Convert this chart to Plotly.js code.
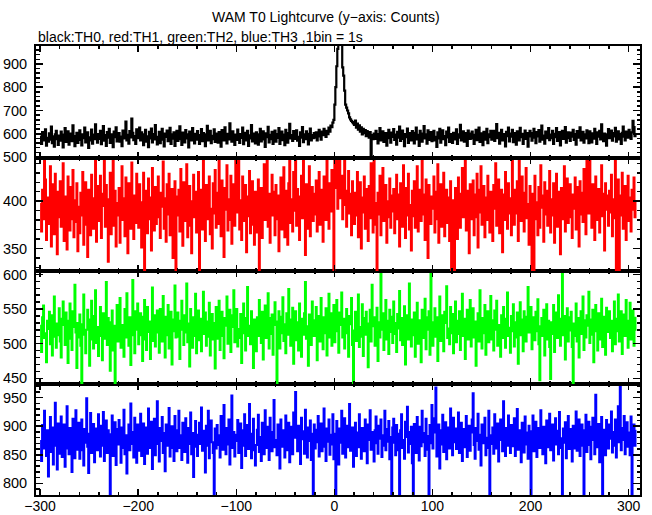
<!DOCTYPE html>
<html>
<head>
<meta charset="utf-8">
<script src="https://cdn.plot.ly/plotly-3.0.1.min.js"></script>
<style>html,body{margin:0;padding:0;background:#fff;}#chart{width:652px;height:515px;}</style>
</head>
<body>
<div id="chart"></div>
<script>
// Time bins: first bin at t = -300 s, bin width 1 s ("1bin = 1s")
const tStart = -300;
const binWidth = 1;

// TH0 (black) counts per 1 s bin, t = -300 ... 307
const th0 = [
588,556,607,571,594,619,549,583,566,602,575,631,560,589,545,598,613,577,552,592,
570,609,583,541,596,624,565,587,610,553,579,601,568,636,590,547,582,604,561,593,
615,574,550,597,581,627,563,592,606,539,585,571,618,558,596,577,640,584,562,599,
578,612,555,589,633,570,594,548,607,583,621,561,597,575,543,609,586,628,567,591,
603,566,588,547,614,580,599,652,572,595,558,611,584,665,604,573,590,556,619,581,
595,627,571,606,584,551,597,617,566,589,542,608,580,622,563,599,576,637,587,554,
582,608,560,593,621,575,546,601,587,614,568,590,625,556,597,579,606,548,588,612,
569,597,632,577,552,605,589,563,616,580,598,541,609,586,571,624,592,559,600,575,
611,583,556,594,620,568,603,579,547,598,634,572,588,613,560,591,577,619,565,601,
584,562,607,589,545,616,593,571,628,585,559,600,576,645,598,566,610,583,552,596,
574,618,590,561,599,582,626,555,604,588,571,612,548,593,580,637,567,601,585,559,
606,579,553,597,621,567,591,610,576,544,602,585,630,563,595,577,608,556,590,614,
566,599,582,624,557,588,609,573,596,551,617,585,562,603,643,580,594,569,611,578,
592,615,570,587,548,606,583,629,564,597,577,610,589,554,600,622,571,594,581,603,
583,606,571,598,617,589,575,609,594,621,601,587,612,598,626,609,635,628,648,660,
725,800,890,965,1045,1110,1080,1000,885,850,785,725,712,700,688,670,662,655,650,645,
638,657,626,644,618,636,609,628,597,621,603,616,590,611,598,583,607,505,594,577,
601,578,613,586,559,599,624,571,592,610,565,588,603,549,596,617,581,562,605,587,
620,574,596,553,608,583,631,569,592,614,578,547,599,586,622,561,603,590,571,611,
585,559,604,627,576,595,548,612,589,566,601,633,580,597,558,615,574,592,607,568,
598,612,571,587,544,606,580,621,562,594,615,577,590,551,609,584,626,565,599,579,
561,604,590,576,619,557,598,583,638,572,595,610,566,587,603,548,614,592,578,601,
609,580,556,595,617,573,590,626,565,602,584,551,608,593,575,621,560,597,586,613,
575,596,612,569,587,642,581,604,558,594,617,572,599,583,546,608,590,627,567,601,
588,617,564,603,579,553,610,592,571,625,586,600,557,596,614,578,603,545,589,612,
603,570,594,621,583,560,607,589,616,566,598,635,575,592,558,609,581,600,624,573,
596,581,613,557,600,586,624,569,591,607,550,595,612,578,603,629,562,589,606,581,
569,605,588,617,574,599,553,611,583,596,628,571,590,608,562,597,580,615,587,560,
610,585,563,602,579,621,594,557,606,588,612,576,640,593,568,601,584,549,598,620,
581,596,614,570,603,589,625,566,592,610,576,599,557,604,631,588,572,609,594,583,
617,595,578,606,655,629,590,603
];

// TH1 (red)
const th1 = [
397,368,412,381,452,423,359,404,376,391,437,352,418,386,365,429,399,344,410,383,
421,373,396,440,358,405,387,349,426,392,369,415,381,433,362,401,378,419,347,394,
366,409,385,431,354,398,420,375,341,412,389,364,428,403,371,393,446,357,384,416,
379,427,361,395,408,450,373,417,388,336,402,430,365,391,451,374,411,352,398,385,
414,356,392,437,380,403,363,425,398,345,419,384,371,441,393,360,406,377,429,389,
372,418,399,351,387,430,320,395,411,366,424,381,404,348,435,390,369,415,376,400,
426,383,361,409,394,442,371,403,357,418,386,429,364,397,413,340,388,421,322,405,
385,412,368,434,396,353,420,379,407,439,362,391,416,374,345,400,428,383,410,367,
398,431,324,389,412,370,445,393,358,417,381,404,426,365,392,350,419,387,433,372,
409,376,449,397,363,422,386,341,414,391,438,369,402,380,427,355,396,418,374,443,
388,412,453,370,401,359,426,393,379,417,346,405,384,432,366,398,421,375,354,410,
395,367,423,319,387,414,361,402,439,380,396,450,373,408,356,391,428,385,410,364,
417,381,406,347,393,425,370,399,436,362,411,388,354,419,455,377,402,368,431,390,
449,374,413,388,359,405,427,382,452,396,343,418,371,400,437,363,392,415,379,408,
386,422,368,401,431,375,412,393,357,426,398,380,444,407,371,419,389,433,402,321,
450,414,454,392,436,452,403,427,381,418,449,396,373,411,432,387,408,364,421,394,
376,409,385,431,362,397,420,350,404,388,426,371,413,393,358,416,382,440,399,367,
451,398,375,318,409,386,427,364,402,435,379,391,417,356,400,383,424,372,406,389,
413,366,399,428,381,407,352,419,390,373,438,401,361,414,385,429,370,396,348,411,
384,421,372,403,437,368,395,412,379,450,386,407,359,423,393,340,417,398,376,405,
392,426,367,410,381,439,356,401,418,373,397,430,363,389,412,377,404,358,421,322,
401,378,320,414,386,360,425,394,372,408,435,383,402,453,369,411,390,345,418,381,
396,422,364,407,383,429,351,412,388,437,375,398,416,362,404,380,427,393,367,410,
385,358,417,392,440,374,401,423,366,389,412,346,407,380,431,395,371,419,387,403,
364,449,396,375,412,387,421,358,452,401,379,426,393,368,409,435,382,397,354,416,
390,319,408,323,427,381,399,364,415,372,438,393,406,357,420,386,411,374,399,432,
367,402,385,419,356,396,429,373,410,388,344,414,381,405,437,368,391,424,377,400,
418,383,361,407,392,425,370,415,397,352,421,386,409,378,434,394,365,450,402,387,
453,396,372,418,389,359,426,401,380,413,367,395,438,384,408,348,419,391,406,374,
411,388,428,363,402,382,451,320,397,423,318,406,385,430,371,399,416,359,392,427,
379,404,368,412,391,425,383,400
];

// TH2 (green)
const th2 = [
526,488,538,555,508,515,473,533,521,546,499,541,483,510,568,522,494,529,512,551,
503,480,536,561,527,498,545,519,472,533,558,507,491,547,524,585,516,465,530,509,
542,497,440,528,571,513,486,520,549,535,468,506,562,518,493,540,577,501,524,482,
511,553,529,476,544,507,522,589,498,537,515,461,531,548,490,526,442,519,556,503,
535,566,494,518,527,481,550,509,573,524,497,538,469,512,592,530,486,547,520,558,
499,528,544,512,475,539,563,506,491,553,517,532,478,525,581,504,541,496,522,548,
516,487,550,531,503,569,525,480,539,512,556,493,528,546,470,518,535,584,509,527,
545,510,478,533,562,520,498,541,516,587,502,529,467,550,523,494,538,511,572,486,
523,548,505,536,489,527,575,514,545,497,532,510,559,483,521,543,506,530,464,553,
507,534,562,491,519,546,511,479,537,526,568,500,515,549,488,524,541,577,502,531,
550,496,521,508,543,472,529,558,515,490,537,582,511,526,499,547,520,465,535,517,
489,538,511,563,524,501,546,477,530,555,508,519,573,493,537,514,542,484,527,560,
532,439,520,547,493,515,539,567,504,528,486,544,513,579,521,497,535,552,471,510,
547,505,531,490,558,522,481,536,513,544,589,507,525,468,542,519,498,561,534,511,
528,553,476,517,540,503,566,529,492,538,515,551,483,526,572,509,544,497,533,556,
502,539,563,518,487,545,527,574,509,536,493,522,550,515,481,540,528,566,498,441,
519,546,504,532,571,495,524,510,557,482,537,513,546,529,466,518,549,503,585,525,
538,497,516,552,475,531,509,607,520,544,491,527,563,506,533,485,549,517,539,501,
561,514,530,488,543,522,576,505,537,498,528,554,470,519,541,506,587,523,496,535,
512,545,481,527,559,500,534,516,473,549,526,508,565,492,538,520,547,484,608,531,
497,523,551,510,538,475,529,568,504,541,517,489,546,530,583,508,522,499,553,515,
543,486,520,561,502,533,514,547,491,528,572,511,536,478,524,549,506,540,563,496,
525,551,509,532,468,518,544,503,577,529,493,537,515,556,484,521,547,502,531,569,
506,534,490,548,520,562,497,527,515,481,541,508,553,530,494,536,574,511,523,487,
540,518,557,496,531,509,545,471,526,560,512,535,489,547,522,503,539,582,516,529,
553,492,521,538,505,546,518,564,499,447,525,537,511,549,483,528,557,506,533,495,
449,531,514,556,488,527,545,508,570,519,497,536,606,512,540,477,524,551,503,538,
519,546,495,438,529,511,558,503,537,480,522,547,514,568,491,534,509,541,526,575,
501,535,513,549,473,527,556,518,490,544,532,506,565,495,521,539,484,552,517,530,
547,508,533,489,524,561,499,536,518,571,503,529,547,485,515,542,511,563,527,494,
533,559,506,525,548,497,520,539
];

// TH3 (blue)
const th3 = [
874,839,902,861,927,884,848,893,812,871,916,855,898,833,879,941,866,824,905,852,
889,917,846,876,903,829,861,935,882,851,897,868,820,913,876,844,928,859,887,906,
843,880,912,858,831,895,871,949,864,818,887,923,853,876,904,837,869,896,858,921,
882,847,901,866,925,839,878,910,853,893,861,778,886,919,848,874,907,832,895,868,
911,873,836,898,862,929,851,884,817,876,903,858,940,869,890,845,915,872,836,903,
857,894,922,848,879,905,834,867,898,852,931,877,862,908,825,886,913,849,878,944,
869,838,897,874,916,853,888,821,903,866,885,932,847,875,900,862,839,918,881,856,
893,927,862,884,841,906,873,855,914,880,836,897,869,924,851,888,811,876,909,864,
848,885,906,869,933,857,892,878,819,901,866,927,844,883,910,872,853,775,896,861,
902,867,884,845,918,876,859,937,881,851,897,868,912,833,879,954,862,890,847,874,
885,911,853,879,905,827,893,866,921,848,876,902,860,939,871,844,887,913,858,831,
867,894,920,855,881,839,906,873,851,928,886,862,899,841,915,877,856,890,946,863,
876,849,903,887,826,912,864,893,871,845,919,858,884,906,837,874,899,851,924,880,
960,883,856,901,869,834,915,877,891,852,929,866,845,898,874,910,841,887,776,903,
861,894,872,918,847,883,905,856,879,931,864,839,896,873,912,850,885,868,921,842,
887,772,909,864,833,896,871,927,852,880,914,845,876,901,863,939,857,882,898,829,
875,906,848,889,863,921,880,843,897,869,856,912,884,835,903,876,928,859,890,866,
838,893,917,870,852,901,878,912,846,884,866,927,858,895,873,909,842,881,774,898,
913,871,849,902,887,858,777,893,921,862,876,843,908,881,934,854,890,869,899,835,
773,904,878,853,916,881,840,899,865,927,872,888,848,913,859,883,776,902,870,937,
861,889,914,968,847,879,903,826,893,868,920,855,884,907,842,873,898,861,931,876,
849,915,872,896,860,881,924,853,888,906,839,877,895,863,918,846,882,901,857,889,
912,958,867,843,897,874,922,859,885,831,903,870,894,915,849,880,862,927,775,884,
869,898,852,921,883,861,905,838,876,912,889,856,944,873,848,897,866,919,881,853,
902,865,887,914,848,876,930,859,893,871,837,906,882,854,917,868,889,843,901,876,
777,891,919,856,884,908,846,873,897,862,928,881,851,899,872,835,910,877,863,922,
858,887,903,840,876,914,868,892,851,925,879,862,773,896,871,907,844,883,918,860,
895,873,838,901,884,861,926,857,889,912,848,878,903,866,774,893,920,855,881,908,
867,842,899,915,876,851,955,888,863,904,837,880,916,776,894,871,849,911,885,861,
903,878,926,854,890,866,912,845,881,935,872,970,858,897,876,918,851,886,907,864,
889,849,917,772,881,903,866,894
];

const seriesNames = ['TH0', 'TH1', 'TH2', 'TH3'];
const seriesColors = ['#000000', '#ff0000', '#00ff00', '#0000ff'];
const titleText = 'WAM T0 Lightcurve (y\u2212axis: Counts)';
const subtitleText = 'black:TH0, red:TH1, green:TH2, blue:TH3 ,1bin = 1s';

const FONT = 'Liberation Sans, Arial, Helvetica, sans-serif';
const xRange = [-304.2, 311.6];

function mk(y, name, color, xa, ya, w) {
  return {type: 'scatter', mode: 'lines', name: name, y: y, x0: tStart, dx: binWidth,
    xaxis: xa, yaxis: ya, line: {color: color, width: w, shape: 'hv'}, hoverinfo: 'x+y'};
}

const data = [
  mk(th0, seriesNames[0], seriesColors[0], 'x4', 'y', 2.2),
  mk(th1, seriesNames[1], seriesColors[1], 'x3', 'y2', 2),
  mk(th2, seriesNames[2], seriesColors[2], 'x2', 'y3', 2),
  mk(th3, seriesNames[3], seriesColors[3], 'x', 'y4', 2)
];

function xax(anchor, labels, match) {
  const a = {anchor: anchor, range: xRange, showticklabels: labels, tick0: 0, dtick: 100,
    ticks: 'inside', ticklen: 6, tickwidth: 1.5, tickcolor: '#000', ticklabelstandoff: -3,
    minor: {dtick: 20, tick0: 0, ticks: 'inside', ticklen: 3, tickwidth: 1.5, tickcolor: '#000', showgrid: false},
    showline: true, linecolor: '#000', linewidth: 2, mirror: 'allticks',
    showgrid: false, zeroline: false, tickfont: {family: FONT, size: 14, color: '#000'}};
  if (match) a.matches = 'x';
  return a;
}
function yax(domain, range, dtick, mdtick) {
  return {domain: domain, range: range, tick0: 0, dtick: dtick,
    ticks: 'inside', ticklen: 7, tickwidth: 1.5, tickcolor: '#000', ticklabelstandoff: 4,
    minor: {dtick: mdtick, tick0: 0, ticks: 'inside', ticklen: 3.5, tickwidth: 1.5, tickcolor: '#000', showgrid: false},
    showline: true, linecolor: '#000', linewidth: 2, mirror: 'allticks',
    showgrid: false, zeroline: false, tickfont: {family: FONT, size: 14.5, color: '#000'}};
}

const layout = {
  width: 652, height: 515,
  margin: {l: 36, r: 12, t: 46, b: 20, pad: 0},
  paper_bgcolor: '#fff', plot_bgcolor: '#fff',
  showlegend: false,
  font: {family: FONT, size: 14, color: '#000'},
  xaxis: xax('y4', true, false),
  xaxis2: xax('y3', false, true),
  xaxis3: xax('y2', false, true),
  xaxis4: xax('y', false, true),
  yaxis: yax([0.7506, 1], [496, 977], 100, 20),
  yaxis2: yax([0.4989, 0.7506], [326.2, 445.7], 50, 10),
  yaxis3: yax([0.2472, 0.4989], [441.7, 605], 50, 10),
  yaxis4: yax([0, 0.2472], [779.5, 974], 50, 10),
  annotations: [
    {text: titleText, xref: 'paper', yref: 'paper', x: 0.480, y: 1.0646,
     xanchor: 'center', yanchor: 'middle', showarrow: false, font: {family: FONT, size: 14, color: '#000'}},
    {text: subtitleText, xref: 'paper', yref: 'paper', x: 0.0, y: 1.020,
     xanchor: 'left', yanchor: 'middle', showarrow: false, font: {family: FONT, size: 14, color: '#000'}}
  ]
};

Plotly.newPlot('chart', data, layout, {staticPlot: true, displayModeBar: false});
</script>
</body>
</html>
